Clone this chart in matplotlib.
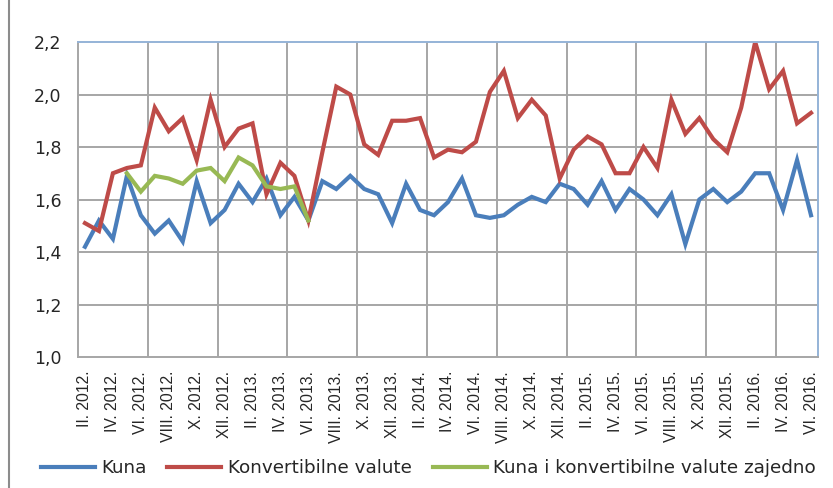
import matplotlib
matplotlib.use("Agg")
import matplotlib.pyplot as plt
from matplotlib.lines import Line2D
import numpy as np

plt.rcParams['font.family'] = ['Liberation Sans', 'DejaVu Sans']

# months II.2012 .. VI.2016
roman = ['I', 'II', 'III', 'IV', 'V', 'VI', 'VII', 'VIII', 'IX', 'X', 'XI', 'XII']
start_month = 1  # index into roman -> II
start_year = 2012
n_months = 53

kuna = [1.42, 1.52, 1.45, 1.69, 1.54, 1.47, 1.52, 1.44, 1.67, 1.51,
        1.56, 1.66, 1.59, 1.68, 1.54, 1.61, 1.52, 1.67, 1.64, 1.69,
        1.64, 1.62, 1.51, 1.66, 1.56, 1.54, 1.59, 1.68, 1.54, 1.53,
        1.54, 1.58, 1.61, 1.59, 1.66, 1.64, 1.58, 1.67, 1.56, 1.64,
        1.60, 1.54, 1.62, 1.43, 1.60, 1.64, 1.59, 1.63, 1.70, 1.70,
        1.56, 1.75, 1.54]
konvertibilne = [1.51, 1.48, 1.70, 1.72, 1.73, 1.95, 1.86, 1.91, 1.75, 1.98,
                 1.80, 1.87, 1.89, 1.62, 1.74, 1.69, 1.52, 1.78, 2.03, 2.00,
                 1.81, 1.77, 1.90, 1.90, 1.91, 1.76, 1.79, 1.78, 1.82, 2.01,
                 2.09, 1.91, 1.98, 1.92, 1.68, 1.79, 1.84, 1.81, 1.70, 1.70,
                 1.80, 1.72, 1.98, 1.85, 1.91, 1.83, 1.78, 1.95, 2.20, 2.02,
                 2.09, 1.89, 1.93]
# combined series only shown V.2012 .. IX.2013
zajedno_start = 3
zajedno = [1.70, 1.63, 1.69, 1.68, 1.66, 1.71, 1.72, 1.67, 1.76, 1.73,
           1.65, 1.64, 1.65, 1.52]

categories = []
for i in range(n_months):
    m = (start_month + i) % 12
    y = start_year + (start_month + i) // 12
    categories.append(f"{roman[m]}. {y}.")

x = np.arange(n_months)
xz = np.arange(zajedno_start, zajedno_start + len(zajedno))

fig = plt.figure(figsize=(8.33, 4.88), dpi=100)
ax = fig.add_axes([78/833, 1 - 357/488, 740/833, 315/488])

blue = '#4A7EBB'
red = '#BE4B48'
green = '#98B954'
lw = 3.0

ax.plot(x, kuna, color=blue, lw=lw, label='Kuna', solid_joinstyle='miter')
ax.plot(x, konvertibilne, color=red, lw=lw, label='Konvertibilne valute', solid_joinstyle='miter')
ax.plot(xz, zajedno, color=green, lw=lw, label='Kuna i konvertibilne valute zajedno', solid_joinstyle='miter')

ax.set_xlim(-0.5, n_months - 0.5)
ax.set_ylim(1.0, 2.2)
yt = np.arange(1.0, 2.21, 0.2)
ax.set_yticks(yt)
ax.set_yticklabels([f"{v:.1f}".replace('.', ',') for v in yt], family='DejaVu Sans')
ax.set_xticks(x[::2])
ax.set_xticklabels(categories[::2], rotation=90)

grid_c = '#A6A6A6'
for v in yt[1:-1]:
    ax.axhline(v, color=grid_c, lw=1.4, zorder=0)
for b in np.arange(4.5, n_months - 1, 5):
    ax.axvline(b, color=grid_c, lw=1.4, zorder=0)

ax.spines['left'].set_color(grid_c)
ax.spines['bottom'].set_color(grid_c)
ax.spines['left'].set_linewidth(1.4)
ax.spines['bottom'].set_linewidth(1.4)
ax.spines['top'].set_color('#95B3D7')
ax.spines['right'].set_color('#95B3D7')
ax.spines['top'].set_linewidth(1.4)
ax.spines['right'].set_linewidth(1.4)

txt_c = '#262626'
ax.tick_params(axis='y', length=0, pad=12, labelsize=12.5, labelcolor=txt_c)
ax.tick_params(axis='x', length=0, pad=10, labelsize=11.3, labelcolor=txt_c)

fig.legend(loc='center', bbox_to_anchor=(0.514, 0.041), ncol=3, frameon=False,
           prop={'family': 'DejaVu Sans', 'size': 13.2},
           handlelength=2.95, handletextpad=0.34, columnspacing=1.15,
           labelcolor=txt_c)

fig.add_artist(Line2D([9/833, 9/833], [0, 1], color='#8C8C8C', lw=1.5))

fig.savefig('out.png', dpi=100)
